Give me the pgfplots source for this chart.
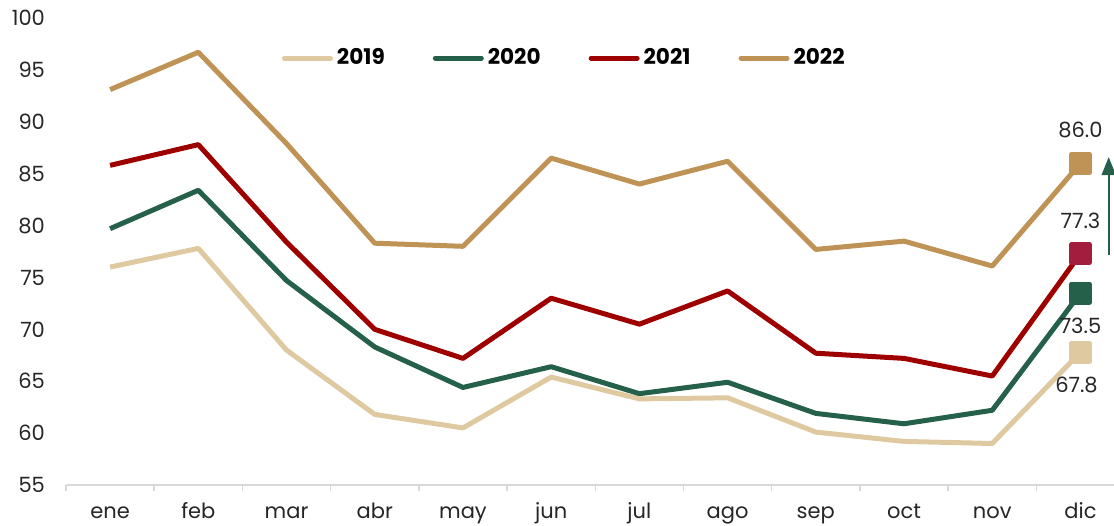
\documentclass[border=0pt]{standalone}
\usepackage{fontspec}
\setmainfont{Poppins}
\usepackage{pgfplots}
\pgfplotsset{compat=1.18}
\usepackage{pgfplotstable}
\usetikzlibrary{arrows.meta}
\definecolor{c19}{HTML}{DFC9A0}
\definecolor{c20}{HTML}{25604A}
\definecolor{c21}{HTML}{9E0000}
\definecolor{c22}{HTML}{BF9356}
\definecolor{m21}{HTML}{A31E3E}
\definecolor{axgray}{HTML}{D9D9D9}
\pgfplotstableread{
x y19 y20 y21 y22
0 76.0 79.7 85.8 93.1
1 77.8 83.4 87.8 96.7
2 68.0 74.7 78.4 87.9
3 61.8 68.3 70.0 78.3
4 60.5 64.4 67.2 78.0
5 65.4 66.4 73.0 86.5
6 63.3 63.8 70.5 84.0
7 63.4 64.9 73.7 86.2
8 60.1 61.9 67.7 77.7
9 59.2 60.9 67.2 78.5
10 59.0 62.2 65.5 76.1
11 67.8 73.5 77.3 86.0
}\datatable
\begin{document}
\begin{tikzpicture}
\begin{axis}[
  scale only axis,
  width=524pt, height=233.5pt,
  xmin=-0.5, xmax=11.38,
  ymin=55, ymax=100,
  ytick={55,60,...,100},
  xtick={0,...,11},
  xticklabels={ene,feb,mar,abr,may,jun,jul,ago,sep,oct,nov,dic},
  minor xtick={-0.5,0.5,...,11.5},
  major tick length=0pt,
  minor tick length=3pt,
  tick align=outside,
  separate axis lines,
  axis x line*=bottom,
  axis y line*=left,
  x axis line style={draw=axgray, line width=0.75pt},
  y axis line style={draw=none},
  xtick style={draw=axgray, line width=0.75pt},
  ytick style={draw=none},
  /pgf/number format/assume math mode=true,
  ticklabel style={font=\fontsize{10.5}{12}\selectfont, text=black!85},
  xticklabel style={anchor=base, yshift=-16.5pt},
  yticklabel style={anchor=east, xshift=-7pt},
  clip=false,
  legend columns=4,
  legend style={draw=none, fill=none, at={(0.2,0.914)}, anchor=west,
    font=\fontsize{10.8}{12}\selectfont\bfseries,
    /tikz/every even column/.append style={column sep=22pt}},
  legend image code/.code={\draw[#1, line cap=round] (0pt,0pt) -- (23pt,0pt);},
  every axis plot/.append style={line width=2.5pt, line join=round},
]
\addplot[c19, mark=none] table[x=x, y=y19] {\datatable};
\addlegendentry{2019}
\addplot[c20, mark=none] table[x=x, y=y20] {\datatable};
\addlegendentry{2020}
\addplot[c21, mark=none] table[x=x, y=y21] {\datatable};
\addlegendentry{2021}
\addplot[c22, mark=none] table[x=x, y=y22] {\datatable};
\addlegendentry{2022}

\addplot[only marks, mark=square*, mark size=4.5pt, color=c22, forget plot,
  nodes near coords, point meta=explicit symbolic,
  every node near coord/.style={font=\fontsize{10.5}{12}\selectfont, text=black!85, anchor=south, yshift=8pt}]
  coordinates {(11,86.0) [86.0]};
\addplot[only marks, mark=square*, mark size=4.5pt, color=m21, forget plot,
  nodes near coords, point meta=explicit symbolic,
  every node near coord/.style={font=\fontsize{10.5}{12}\selectfont, text=black!85, anchor=south, yshift=8pt}]
  coordinates {(11,77.3) [77.3]};
\addplot[only marks, mark=square*, mark size=4.5pt, color=c20, forget plot,
  nodes near coords, point meta=explicit symbolic,
  every node near coord/.style={font=\fontsize{10.5}{12}\selectfont, text=black!85, anchor=north, yshift=-8pt}]
  coordinates {(11,73.5) [73.5]};
\addplot[only marks, mark=square*, mark size=4.5pt, color=c19, forget plot,
  nodes near coords, point meta=explicit symbolic,
  every node near coord/.style={font=\fontsize{10.5}{12}\selectfont, text=black!85, anchor=north, yshift=-8pt, xshift=-2pt}]
  coordinates {(11,67.8) [67.8]};
\draw[c20, line width=1pt, -{Triangle[width=7pt,length=9pt]}] (axis cs:11.32,77.2) -- (axis cs:11.32,86.6);
\end{axis}
\pgfresetboundingbox
\useasboundingbox (-33pt,-20pt) rectangle (524pt,242.5pt);
\end{tikzpicture}
\end{document}
